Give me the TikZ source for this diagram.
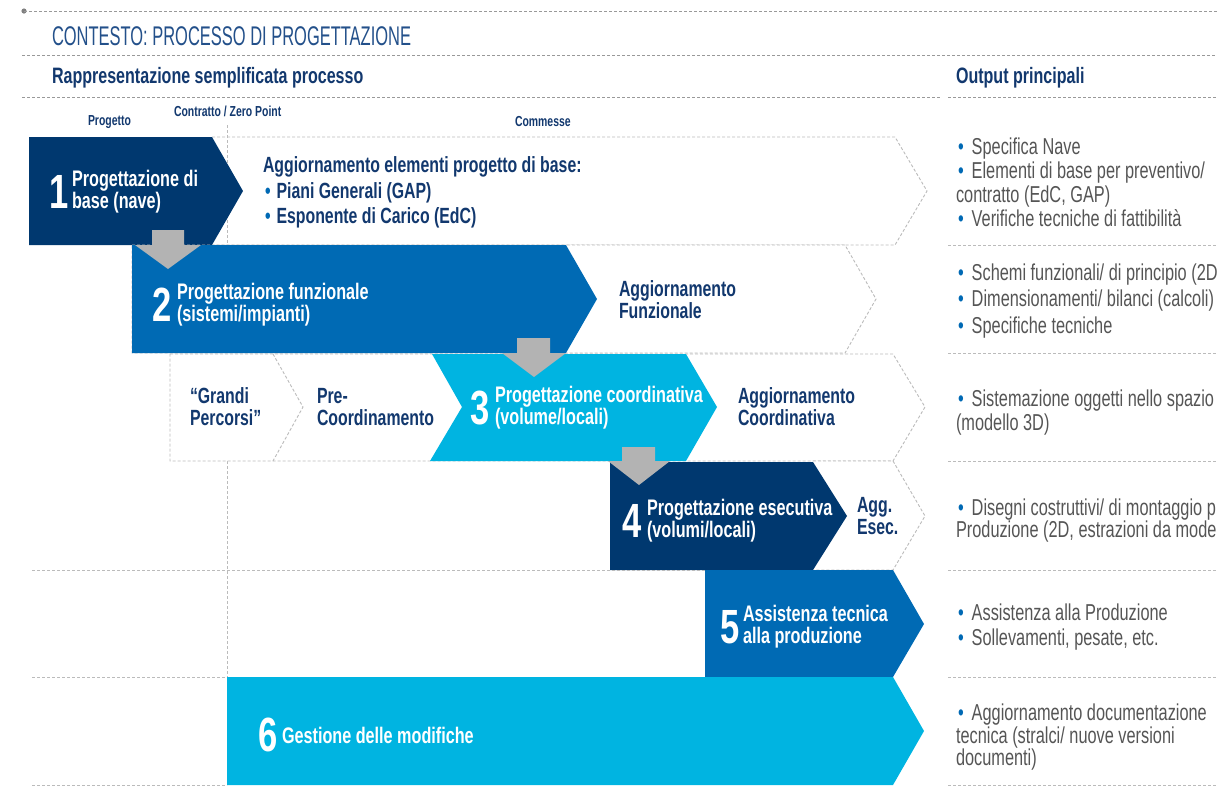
\documentclass[tikz,border=0pt]{standalone}
\usepackage{fontspec}
\setmainfont{Liberation Sans}
\newfontfamily\ftitle{Liberation Sans}[FakeStretch=0.61]
\newfontfamily\fcond{Liberation Sans}[FakeStretch=0.71]
\newfontfamily\fbold{Liberation Sans}[FakeStretch=0.72]
\definecolor{navy}{HTML}{00386F}
\definecolor{midblue}{HTML}{006AB4}
\definecolor{cyanb}{HTML}{00B4E1}
\definecolor{arrgray}{HTML}{B3B3B3}
\definecolor{dashgray}{HTML}{BBBBBB}
\definecolor{txtnavy}{HTML}{12386E}
\definecolor{titleblue}{HTML}{23508A}
\definecolor{outgray}{HTML}{555555}
\definecolor{bul}{HTML}{0069B4}
\tikzset{
  dsh/.style={draw=dashgray, dash pattern=on 3pt off 2pt, line width=0.9pt},
  txt/.style={anchor=base west, inner sep=0pt, outer sep=0pt},
  wbox/.style={txt, text=white, font=\fbold\bfseries\fontsize{22.5}{22}\selectfont},
  digit/.style={txt, text=white, font=\fbold\bfseries\fontsize{48}{48}\selectfont},
  nbox/.style={txt, text=txtnavy, font=\fbold\bfseries\fontsize{22}{22}\selectfont},
  outt/.style={txt, text=outgray, text height=16pt, text depth=4pt, font=\fcond\fontsize{23}{23}\selectfont},
  smalllab/.style={txt, text=txtnavy, font=\fbold\bfseries\fontsize{14.5}{14.5}\selectfont},
  headt/.style={txt, text=txtnavy, font=\fbold\bfseries\fontsize{22.3}{22.3}\selectfont},
}
\newcommand\bu{\textcolor{bul}{\textbullet}}
\newcommand\two[2]{\begin{tabular}[t]{@{}l@{}}#1\\#2\end{tabular}}
\begin{document}
\begin{tikzpicture}[x=1pt,y=-1pt]
\useasboundingbox (0,0) rectangle (1217,807);
\begin{scope}
\clip (0,0) rectangle (1217,807);
% header
\fill[gray] (24,11) circle (2.6pt);
\draw[dsh, draw=gray!80] (24,11) -- (1217,11);
\draw[dsh, draw=gray!80] (22,55) -- (1217,55);
\draw[dsh, draw=gray!80] (22,97) -- (940,97);
\draw[dsh, draw=gray!80] (948,97) -- (1217,97);
% vertical zero point line
\draw[dsh] (227,125) -- (227,245);
\draw[dsh] (227,461) -- (227,677);
% row 1
\draw[dsh] (212,137) -- (895,137) -- (927,191) -- (895,245) -- (212,245);
\fill[navy] (29,137) -- (212,137) -- (243,191) -- (212,245) -- (29,245) -- cycle;
% row 2
\draw[dsh, fill=white] (132,245) -- (845,245) -- (876,299) -- (845,353) -- (132,353) -- cycle;
\fill[midblue] (132,245) -- (566,245) -- (597,299) -- (566,353) -- (132,353) -- cycle;
% row 3
\draw[dsh, fill=white] (170,354) -- (893,354) -- (925,407) -- (893,461) -- (170,461) -- cycle;
\draw[dsh] (273,354) -- (303,407) -- (273,461);
\fill[cyanb] (432,354) -- (686,354) -- (717,407) -- (686,461) -- (430,461) -- (462,407) -- cycle;
% row 4
\draw[dsh, fill=white] (813,461) -- (893,461) -- (925,516) -- (893,570) -- (813,570);
\fill[navy] (610,462) -- (813,462) -- (847,516) -- (813,570) -- (610,570) -- cycle;
% row 5
\draw[dsh] (32,570) -- (705,570);
\fill[midblue] (705,570) -- (893,570) -- (924,624) -- (893,677) -- (705,677) -- cycle;
% row 6
\draw[dsh] (32,677) -- (227,677);
\draw[dsh] (32,785) -- (227,785);
\fill[cyanb] (227,677) -- (893,677) -- (924,731) -- (893,785) -- (227,785) -- cycle;
% right separators
\foreach \yy in {245,353,461,570,677,785} \draw[dsh] (948,\yy) -- (1217,\yy);
% gray arrows
\fill[arrgray] (152,230) -- (184,230) -- (184,245) -- (201,245) -- (168,269) -- (135,245) -- (152,245) -- cycle;
\fill[arrgray] (517,338) -- (550,338) -- (550,353) -- (566,353) -- (534,377) -- (502,353) -- (517,353) -- cycle;
\fill[arrgray] (622,447) -- (655,447) -- (655,461) -- (670,461) -- (639,485) -- (608,461) -- (622,461) -- cycle;
% header texts
\node[txt, text=titleblue, font=\ftitle\fontsize{27}{27}\selectfont] (title) at (52,45) {CONTESTO: PROCESSO DI PROGETTAZIONE};
\node[headt] (hrap) at (52,83) {Rappresentazione semplificata processo};
\node[headt] (hout) at (956,83) {Output principali};
\node[smalllab] (lprog) at (88,125) {Progetto};
\node[smalllab] (lcontr) at (174,116) {Contratto / Zero Point};
\node[smalllab] (lcomm) at (515,126) {Commesse};
% row 1 texts
\node[digit] (d1) at (49,208) {1};
\node[wbox] (t1) at (72,186) {\two{Progettazione di}{base (nave)}};
\node[nbox] (a1a) at (263,172) {Aggiornamento elementi progetto di base:};
\node[nbox] (a1b) at (265,198) {\bu\hspace{6pt}Piani Generali (GAP)};
\node[nbox] (a1c) at (265,223) {\bu\hspace{6pt}Esponente di Carico (EdC)};
% row 2
\node[digit] (d2) at (152,321) {2};
\node[wbox] (t2) at (177,299) {\two{Progettazione funzionale}{(sistemi/impianti)}};
\node[nbox] (a2) at (619,296) {\two{Aggiornamento}{Funzionale}};
% row 3
\node[nbox] (g3) at (190,403) {\two{“Grandi}{Percorsi”}};
\node[nbox] (p3) at (317,403) {\two{Pre-}{Coordinamento}};
\node[digit] (d3) at (470,424) {3};
\node[wbox] (t3) at (495,402) {\two{Progettazione coordinativa}{(volume/locali)}};
\node[nbox] (a3) at (738,403) {\two{Aggiornamento}{Coordinativa}};
% row 4
\node[digit] (d4) at (622,537) {4};
\node[wbox] (t4) at (647,515) {\two{Progettazione esecutiva}{(volumi/locali)}};
\node[nbox] (a4) at (857,512) {\two{Agg.}{Esec.}};
% row 5
\node[digit] (d5) at (720,643) {5};
\node[wbox] (t5) at (743,621) {\two{Assistenza tecnica}{alla produzione}};
% row 6
\node[digit] (d6) at (258,751) {6};
\node[wbox] (t6a) at (282,743) {Gestione delle modifiche};
% outputs
\node[outt] (o1a) at (958,154) {\bu\hspace{8pt}Specifica Nave};
\node[outt] (o1b) at (958,178) {\bu\hspace{8pt}Elementi di base per preventivo/};
\node[outt] (o1c) at (956,202) {contratto (EdC, GAP)};
\node[outt] (o1d) at (958,226) {\bu\hspace{8pt}Verifiche tecniche di fattibilità};
\node[outt] (o2a) at (958,280) {\bu\hspace{8pt}Schemi funzionali/ di principio (2D};
\node[outt] (o2b) at (958,306) {\bu\hspace{8pt}Dimensionamenti/ bilanci (calcoli)};
\node[outt] (o2c) at (958,333) {\bu\hspace{8pt}Specifiche tecniche};
\node[outt] (o3a) at (958,406) {\bu\hspace{8pt}Sistemazione oggetti nello spazio};
\node[outt] (o3b) at (956,430) {(modello 3D)};
\node[outt] (o4a) at (958,515) {\bu\hspace{8pt}Disegni costruttivi/ di montaggio p};
\node[outt] (o4b) at (956,537) {Produzione (2D, estrazioni da modello};
\node[outt] (o5a) at (958,620) {\bu\hspace{8pt}Assistenza alla Produzione};
\node[outt] (o5b) at (958,645) {\bu\hspace{8pt}Sollevamenti, pesate, etc.};
\node[outt] (o6a) at (958,720) {\bu\hspace{8pt}Aggiornamento documentazione};
\node[outt] (o6b) at (956,743) {tecnica (stralci/ nuove versioni};
\node[outt] (o6c) at (956,765) {documenti)};
\end{scope}
\end{tikzpicture}
\end{document}
